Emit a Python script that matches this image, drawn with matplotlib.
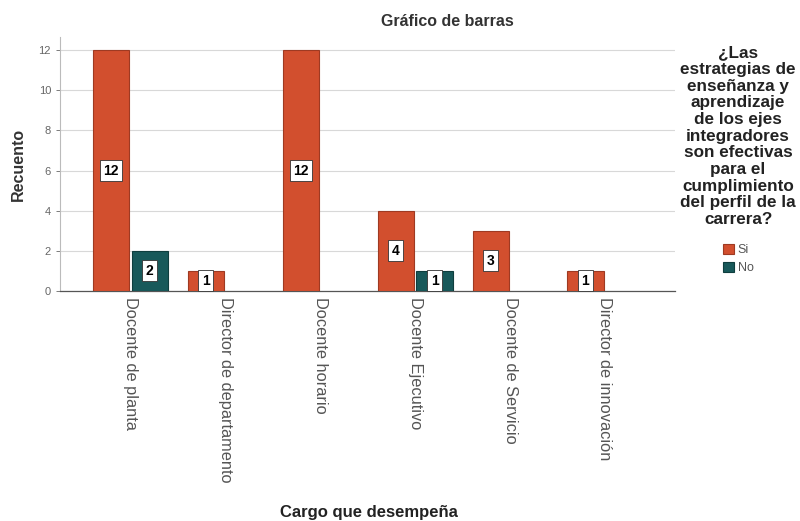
import matplotlib.pyplot as plt
import numpy as np

plt.rcParams["font.family"] = ["Liberation Sans", "DejaVu Sans"]

categories = ["Docente de planta", "Director de departamento", "Docente horario",
              "Docente Ejecutivo", "Docente de Servicio", "Director de innovación"]
si_counts = [12, 1, 12, 4, 3, 1]
no_counts = [2, 0, 0, 1, 0, 0]
series_names = ["Si", "No"]
y_ticks = [0, 2, 4, 6, 8, 10, 12]

legend_title = ("¿Las\nestrategias de\nenseñanza y\naprendizaje\nde los ejes\n"
                "integradores\nson efectivas\npara el\ncumplimiento\n"
                "del perfil de la\ncarrera?")

color_si = "#D24F2E"
color_no = "#18595A"
edge_si = "#9E3A22"
edge_no = "#0F3E3E"

fig = plt.figure(figsize=(8, 5.21), dpi=100)
ax = fig.add_axes([0.075, 0.4415, 0.769, 0.4875])

x = np.arange(len(categories))
width = 0.38
offset = 0.205

for vals, off, col, ec, name in [(si_counts, -offset, color_si, edge_si, series_names[0]),
                                  (no_counts, offset, color_no, edge_no, series_names[1])]:
    xs = [xi + off for xi, v in zip(x, vals) if v > 0]
    vs = [v for v in vals if v > 0]
    ax.bar(xs, vs, width=width, color=col, edgecolor=ec, linewidth=0.8,
           label=name, zorder=3)
    for xi, v in zip(xs, vs):
        ax.text(xi, v / 2, str(v), ha="center", va="center", fontsize=10,
                fontweight="bold", color="black", zorder=4,
                bbox=dict(boxstyle="square,pad=0.25", facecolor="white",
                          edgecolor="#333333", linewidth=0.6))

ax.set_xlim(-0.74, len(categories) - 1 + 0.74)
ax.set_ylim(0, 12.65)
ax.set_yticks(y_ticks)
ax.set_xticks(x)
ax.set_xticklabels(categories, rotation=270, fontsize=11.8, color="#555555",
                   va="top", ha="center")
ax.tick_params(axis="x", length=0, pad=4)
ax.tick_params(axis="y", labelsize=8, colors="#666666", length=3, width=0.6)
ax.yaxis.grid(True, color="#D8D8D8", linewidth=0.8, zorder=0)
ax.set_axisbelow(True)

for side in ["top", "right"]:
    ax.spines[side].set_visible(False)
ax.spines["left"].set_color("#BBBBBB")
ax.spines["left"].set_linewidth(0.8)
ax.spines["bottom"].set_color("#555555")
ax.spines["bottom"].set_linewidth(0.9)

ax.set_ylabel("Recuento", fontsize=11.5, fontweight="bold", color="#333333", labelpad=9)
fig.text(0.559, 0.958, "Gráfico de barras", ha="center", va="center",
         fontsize=11.5, fontweight="bold", color="#333333")
fig.text(0.461, 0.016, "Cargo que desempeña", ha="center", va="center",
         fontsize=12, fontweight="bold", color="#222222")

leg = ax.legend(title=legend_title, loc="upper left", bbox_to_anchor=(0.99, 1.012),
                frameon=False, fontsize=9, title_fontsize=12.3,
                handlelength=0.9, handleheight=0.9, handletextpad=0.3,
                labelspacing=0.45)
leg.get_title().set_fontweight("bold")
leg.get_title().set_multialignment("center")
leg.get_title().set_linespacing(1.14)
leg.get_title().set_color("#222222")
leg._legend_box.align = "center"
leg._legend_box.sep = 12
for t in leg.get_texts():
    t.set_color("#555555")

fig.savefig("out.png", dpi=100)
